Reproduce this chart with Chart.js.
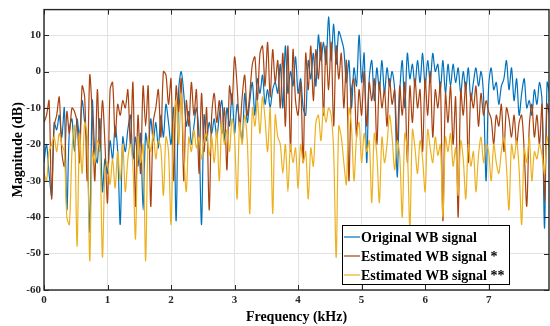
<!DOCTYPE html>
<html>
<head>
<meta charset="utf-8">
<script src="https://cdn.jsdelivr.net/npm/chart.js@4.4.1/dist/chart.umd.min.js"></script>
<style>
  html, body { margin: 0; padding: 0; background: #fff; }
  #wrap { width: 550px; height: 326px; }
</style>
</head>
<body>
<div id="wrap"><canvas id="spec" width="550" height="326"></canvas></div>
<script>
// spectrum magnitudes (dB), one value every 0.04 kHz from 0 kHz
const stepKHz = 0.04;

const originalWB = [
  -25, -20, -28, -34, -14, -16, -12, -18, -10, -38, -16, -13, -22, -13, -18, -8, -14, -20, -44, -8, -22, -25, -13, -33, -24,
  -28, -19, -24, -15, -22, -42, -18, -22, -16, -12, -24, -18, -26, -17, -38, -17, -21, -13, -19, -14, -21, -12, -18, -9, -14,
  -20, -10, -41, -5, 0, -6, -15, -11, -20, -15, -10, -18, -42, -12, -19, -14, -17, -13, -18, -12, -8, -19, -10, -15, -6,
  -17, -9, -14, -19, -6, -14, -8, -3, -12, -2, -6, -1, -9, -5, -10, -5, -3, -6, 2, -10, 7, -6, 0, -4, 4,
  -6, -2, -10, -12, 3, -2, 5, -4, 10, 3, 8, 2, 15, 3, 13, 2, 11, 9, 6, -3, 3, -10, 1, -4, 10,
  -3, 5, -25, -2, 3, -8, 1, -5, 3, -6, 1, -4, 0, -5, -29, -6, 3, -10, 5, -2, 2, -4, 3, -3, 5,
  -4, 3, -3, 5, 0, 2, -5, 3, -6, 2, -4, 2, -3, 1, -6, 0, -5, 1, -8, -3, 1, -4, 0, -7, -30,
  -4, 1, -5, -3, -9, -4, -2, 3, -5, 1, -8, -2, -12, -6, -2, -10, -8, -12, -5, -9, -3, -8, -43, -3, -6
];

const estimatedWB1 = [
  -14, -12, -8, -35, -15, -12, -7, -22, -26, -11, -17, -10, -11, -14, -25, -4, -7, -30, -1, -12, -30, -5, -22, -8, -20,
  -36, -5, -3, -18, -9, -12, -8, -10, -5, -20, -3, -37, -12, -28, -4, -15, -4, -37, -14, -10, -5, -18, 0, -1, -9,
  -2, -30, -4, -11, -2, -30, -8, -15, -3, -12, -5, -28, -6, -22, -10, -38, -12, -6, -14, -8, -17, -10, -27, -4, -9,
  4, -4, -16, -7, -1, -12, -6, 2, 4, -8, 5, 7, -4, 8, -7, 6, -3, 3, -10, 5, -15, 7, -22, 6, -8,
  -12, -3, -25, 5, -5, 7, -8, 6, -2, 8, -12, 7, -5, 8, -15, 7, -2, 5, -10, 3, -30, -5, -2, -18, -5,
  -12, 0, -15, -3, -8, -2, -20, -3, -10, -5, -15, -2, -9, -5, -20, -4, -12, -3, -25, -4, -14, -2, -10, -5, -22,
  -2, -12, 0, -18, -5, -10, -3, -41, -6, -14, -4, -20, -7, -40, -5, -12, -3, -25, -6, -10, -4, -15, -6, -12, -8,
  -11, -13, -20, -12, -15, -9, -22, -10, -13, -18, -12, -20, -14, -12, -22, -37, -15, -9, -18, -12, -20, -9, -36, -9, -12
];

const estimatedWB2 = [
  -28, -30, -22, -20, -18, -22, -17, -20, -22, -40, -42, -22, -15, -48, -17, -28, -14, -18, -52, -22, -25, -19, -22, -51, -27,
  -25, -31, -24, -32, -22, -30, -20, -33, -24, -20, -26, -46, -18, -25, -20, -52, -18, -22, -17, -24, -19, -21, -34, -18, -22,
  -42, -15, -8, -20, -6, -22, -33, -18, -22, -16, -21, -18, -24, -19, -17, -23, -18, -25, -16, -30, -14, -20, -16, -22, -13,
  -18, -35, -14, -20, -12, -19, -39, -10, -15, -8, -17, -7, -13, -22, -10, -39, -12, -18, -20, -28, -20, -33, -20, -25, -21,
  -32, -20, -25, -22, -35, -21, -26, -14, -12, -19, -10, -14, -10, -12, -22, -51, -15, -18, -25, -31, -10, -15, -30, -18, -14,
  -25, -17, -22, -19, -36, -17, -23, -36, -18, -25, -20, -12, -18, -27, -19, -23, -40, -17, -22, -43, -16, -21, -28, -19, -24,
  -33, -16, -21, -25, -18, -23, -20, -40, -18, -22, -17, -26, -21, -34, -19, -24, -35, -20, -26, -22, -33, -23, -18, -25, -20,
  -22, -30, -20, -25, -28, -22, -18, -26, -38, -20, -24, -19, -27, -42, -21, -25, -18, -30, -22, -24, -20, -23, -28, -18, -22
];

const seriesNames = ['Original WB signal', 'Estimated WB signal *', 'Estimated WB signal **'];
const seriesColors = ['#0072BD', '#A9420F', '#EDB120'];
const xTicks = [0, 1, 2, 3, 4, 5, 6, 7];
const yTicks = [-60, -50, -40, -30, -20, -10, 0, 10];

const toPoints = (vals) => vals.map((v, i) => ({ x: +(i * stepKHz).toFixed(2), y: v }));

const serif = '"Liberation Serif", "Times New Roman", serif';
const ink = '#262626';

// MATLAB style box, inward ticks and boxed legend
const boxPlugin = {
  id: 'boxPlugin',
  afterDatasetsDraw(chart) {
    const { ctx, chartArea: a, scales } = chart;
    ctx.save();
    ctx.strokeStyle = ink;
    ctx.lineWidth = 1;
    ctx.beginPath();
    xTicks.forEach((t) => {
      const px = Math.round(scales.x.getPixelForValue(t)) + 0.5;
      ctx.moveTo(px, a.bottom); ctx.lineTo(px, a.bottom - 5);
      ctx.moveTo(px, a.top); ctx.lineTo(px, a.top + 5);
    });
    yTicks.forEach((t) => {
      const py = Math.round(scales.y.getPixelForValue(t)) + 0.5;
      ctx.moveTo(a.left, py); ctx.lineTo(a.left + 5, py);
      ctx.moveTo(a.right, py); ctx.lineTo(a.right - 5, py);
    });
    ctx.stroke();
    ctx.lineWidth = 1.4;
    ctx.strokeRect(a.left, a.top, a.right - a.left, a.bottom - a.top);

    // legend
    const lw = 167, lh = 59;
    const lx = a.right - 40 - lw, ly = a.bottom - 6 - lh;
    ctx.fillStyle = '#fff';
    ctx.fillRect(lx, ly, lw, lh);
    ctx.lineWidth = 1;
    ctx.strokeStyle = '#000';
    ctx.strokeRect(lx + 0.5, ly + 0.5, lw, lh);
    ctx.font = 'bold 14px ' + serif;
    ctx.textBaseline = 'middle';
    seriesNames.forEach((name, i) => {
      const yy = ly + 12 + i * 19;
      ctx.strokeStyle = seriesColors[i];
      ctx.lineWidth = 1.2;
      ctx.beginPath();
      ctx.moveTo(lx + 2, yy); ctx.lineTo(lx + 18, yy);
      ctx.stroke();
      ctx.fillStyle = '#000';
      ctx.fillText(name, lx + 19, yy + 1);
    });
    ctx.restore();
  }
};

new Chart(document.getElementById('spec'), {
  type: 'line',
  data: {
    datasets: [
      { label: seriesNames[0], data: toPoints(originalWB), borderColor: seriesColors[0], order: 3 },
      { label: seriesNames[1], data: toPoints(estimatedWB1), borderColor: seriesColors[1], order: 2 },
      { label: seriesNames[2], data: toPoints(estimatedWB2), borderColor: seriesColors[2], order: 1 }
    ]
  },
  options: {
    responsive: false,
    animation: false,
    layout: { padding: { top: 8, right: 1, left: 0, bottom: 0 } },
    elements: {
      point: { radius: 0 },
      line: { borderWidth: 1.2, tension: 0.3 }
    },
    plugins: {
      legend: { display: false },
      tooltip: { enabled: false }
    },
    scales: {
      x: {
        type: 'linear',
        min: 0,
        max: 7.95,
        afterBuildTicks: (s) => { s.ticks = xTicks.map((v) => ({ value: v })); },
        afterFit: (s) => { s.height = 36; },
        ticks: { font: { family: serif, size: 11, weight: 'bold' }, color: ink, padding: 4 },
        grid: { color: '#e2e2e2', drawTicks: false },
        border: { display: false },
        title: {
          display: true,
          text: 'Frequency (kHz)',
          font: { family: serif, size: 14, weight: 'bold' },
          color: '#000',
          padding: { top: 0, bottom: 0 }
        }
      },
      y: {
        min: -60,
        max: 17,
        afterBuildTicks: (s) => { s.ticks = yTicks.map((v) => ({ value: v })); },
        afterFit: (s) => { s.width = 44; },
        ticks: { font: { family: serif, size: 11, weight: 'bold' }, color: ink, padding: 3 },
        grid: { color: '#e2e2e2', drawTicks: false },
        border: { display: false },
        title: {
          display: true,
          text: 'Magnitude (dB)',
          font: { family: serif, size: 14, weight: 'bold' },
          color: '#000',
          padding: { top: 10, bottom: 0 }
        }
      }
    }
  },
  plugins: [boxPlugin]
});
</script>
</body>
</html>
